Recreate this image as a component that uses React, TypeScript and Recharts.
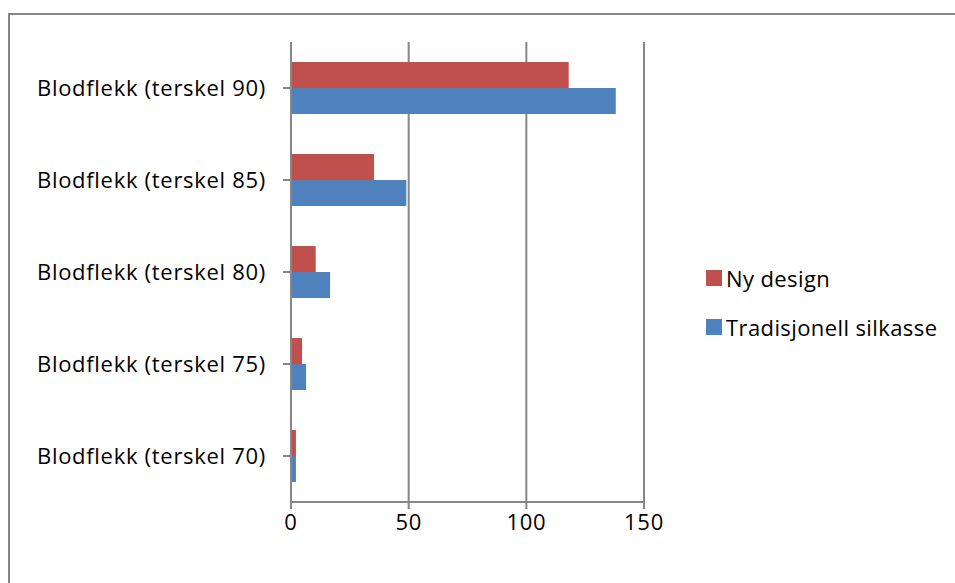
import React from "react";
import { BarChart, Bar, XAxis, YAxis, CartesianGrid } from "recharts";

const categories = [
  "Blodflekk (terskel 90)",
  "Blodflekk (terskel 85)",
  "Blodflekk (terskel 80)",
  "Blodflekk (terskel 75)",
  "Blodflekk (terskel 70)",
];
const nyDesign = [118, 35.3, 10.5, 4.7, 2.1];
const tradisjonell = [138, 49, 16.6, 6.4, 2.1];
const xTicks = [0, 50, 100, 150];

const data = categories.map((name, i) => ({
  name,
  ny: nyDesign[i],
  trad: tradisjonell[i],
}));

const GRAY = "#868686";
const RED = "#C0504D";
const BLUE = "#4F81BD";
const FONT = "'Open Sans', sans-serif";
const tickStyle = { fill: "#000", fontSize: 22, fontFamily: FONT, letterSpacing: 0.7 };

function LegendBox() {
  const items = [
    { label: "Ny design", color: RED },
    { label: "Tradisjonell silkasse", color: BLUE },
  ];
  return (
    <div style={{ position: "absolute", left: 706, top: 253, fontFamily: FONT, fontSize: 22, letterSpacing: 0.4, color: "#000" }}>
      {items.map((it) => (
        <div key={it.label} style={{ display: "flex", alignItems: "center", height: 49, whiteSpace: "nowrap" }}>
          <span style={{ width: 16, height: 16, background: it.color, marginRight: 4, flexShrink: 0 }} />
          <span>{it.label}</span>
        </div>
      ))}
    </div>
  );
}

export default function App() {
  return (
    <div style={{ position: "absolute", left: 0, top: 0, width: 955, height: 583, overflow: "hidden", background: "#fff" }}>
      <div
        style={{
          position: "absolute", left: 8, top: 13, width: 980, height: 620,
          border: `2px solid ${GRAY}`, boxSizing: "border-box",
        }}
      />
      <div style={{ position: "absolute", left: 0, top: 0 }}>
        <BarChart
          width={955}
          height={583}
          data={data}
          layout="vertical"
          margin={{ top: 42, right: 311, bottom: 41, left: 21 }}
          barGap={0}
        >
          <CartesianGrid horizontal={false} stroke={GRAY} strokeWidth={2} />
          <XAxis
            type="number"
            domain={[0, 150]}
            ticks={xTicks}
            interval={0}
            height={40}
            stroke={GRAY}
            strokeWidth={2}
            tickSize={7}
            tickMargin={5}
            tick={tickStyle}
          />
          <YAxis
            type="category"
            dataKey="name"
            width={270}
            stroke={GRAY}
            strokeWidth={2}
            tickSize={8}
            tickMargin={17}
            tick={tickStyle}
          />
          <Bar dataKey="ny" name="Ny design" fill={RED} barSize={26} isAnimationActive={false} />
          <Bar dataKey="trad" name="Tradisjonell silkasse" fill={BLUE} barSize={26} isAnimationActive={false} />
        </BarChart>
      </div>
      <LegendBox />
    </div>
  );
}
